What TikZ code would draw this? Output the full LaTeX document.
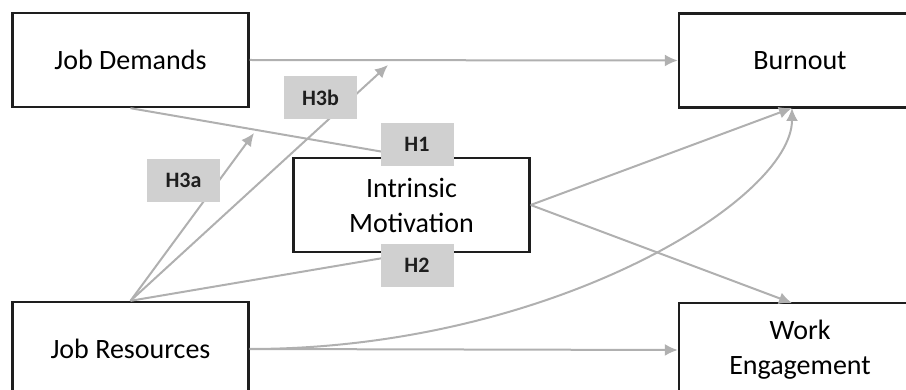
\documentclass[tikz,border=0pt]{standalone}
\usepackage{fontspec}
\setmainfont{Carlito}
\usepackage{tikz}
\definecolor{linegray}{HTML}{B0B0B0}
\definecolor{labelgray}{HTML}{D0D0D0}
\definecolor{boxblack}{HTML}{1E1E1E}
\usetikzlibrary{positioning, arrows.meta, shapes}
\tikzstyle{arrow} = [line width=2pt,->,>={Latex[length=13pt,width=12pt]},draw=linegray]

\begin{document}
\begin{tikzpicture}[x=1pt,y=-1pt]
                    \tikzstyle{every node}=[font=\fontsize{28}{35}\selectfont]
                    \tikzstyle{construct} = [rectangle, draw=boxblack, line width=2.4pt, fill=white, minimum width=236pt, minimum height=94pt, align=center, inner sep=0pt]
                    \tikzstyle{hyp} = [rectangle, fill=labelgray, minimum width=73pt, minimum height=43pt, inner sep=0pt, font=\fontsize{22}{24}\selectfont\bfseries, text=boxblack]
                    \tikzstyle{link} = [line width=2pt, draw=linegray]

                    \useasboundingbox (0,0) rectangle (906,390);

                    \node[construct](demands) at (130.5,60) {Job Demands};
                    \node[construct](resources) at (130.5,349) {Job Resources};
                    \node[construct](motivation) at (411.5,205) {Intrinsic\\Motivation};
                    \node[construct, minimum width=242pt](burnout) at (800,60.5) {Burnout};
                    \node[construct, minimum width=242pt](engagement) at (800,350) {Work\\Engagement};

                    \coordinate (moda) at (254,133);
                    \coordinate (modb) at (388,65);
                    \coordinate (bin) at (792,108);
                    \coordinate (win) at (792,303);

                    % paths into the mediator
                    \draw[link] (demands.south) -- (motivation.north);
                    \draw[link] (resources.north) -- (motivation.south);

                    % moderation arrows
                    \draw[arrow] (resources.north) -- (moda);
                    \draw[arrow] (resources.north) -- (modb);

                    % direct paths
                    \draw[arrow] (demands.east) -- (burnout.west);
                    \draw[arrow] (resources.east) -- (engagement.west);
                    \draw[arrow] (motivation.east) -- (bin);
                    \draw[arrow] (motivation.east) -- (win);
                    \draw[arrow] (resources.east) .. controls (550,349) and (792,200) .. (bin);

                    % hypothesis labels
                    \node[hyp](h1) at (417,144.5) {H1};
                    \node[hyp](h2) at (417,265.5) {H2};
                    \node[hyp](h3a) at (183.5,180.5) {H3a};
                    \node[hyp](h3b) at (320.5,98) {H3b};
        
            \end{tikzpicture}
\end{document}
